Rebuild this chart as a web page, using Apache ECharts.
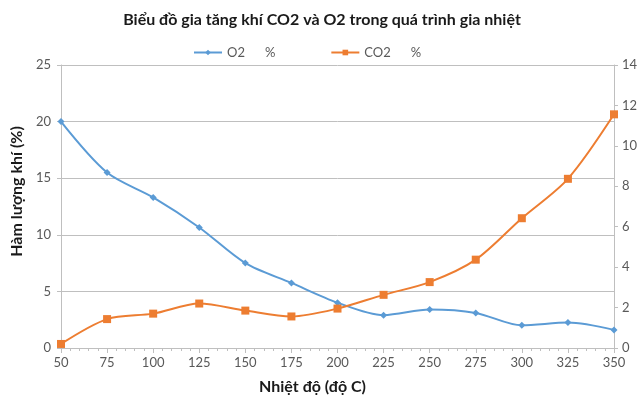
<!DOCTYPE html>
<html>
<head>
<meta charset="utf-8">
<script src="https://cdn.jsdelivr.net/npm/echarts@6/dist/echarts.min.js"></script>
<style>
  html, body {margin: 0; padding: 0; background: #fff;}
  #chart {width: 644px; height: 407px;}
</style>
</head>
<body>
<div id="chart"></div>
<script>
// nhiệt độ (độ C)
var temps = [50, 75, 100, 125, 150, 175, 200, 225, 250, 275, 300, 325, 350];
// O2 % (trục trái)
var o2 = [20, 15.5, 13.3, 10.65, 7.5, 5.75, 4.0, 2.9, 3.4, 3.1, 2.0, 2.25, 1.6];
// CO2 % (trục phải)
var co2 = [0.2, 1.43, 1.7, 2.2, 1.85, 1.56, 1.95, 2.63, 3.26, 4.37, 6.42, 8.37, 11.56];

var blue = '#5b9bd5';
var orange = '#ed7d31';
var font = 'Lato, "Open Sans", sans-serif';

var chart = echarts.init(document.getElementById('chart'));

var option = {
  animation: false,
  textStyle: {fontFamily: font},
  title: {
    text: 'Biểu đồ gia tăng khí CO2 và O2 trong quá trình gia nhiệt',
    left: 'center',
    top: 7,
    textStyle: {fontSize: 16, fontWeight: 'bold', color: '#1a1a1a', fontFamily: font}
  },
  legend: {
    top: 41,
    left: 188,
    itemGap: 55,
    itemWidth: 28,
    itemHeight: 7,
    textStyle: {fontSize: 13, color: '#595959', fontFamily: font},
    data: ['O2      %', 'CO2      %']
  },
  grid: {left: 61, right: 30, top: 65, bottom: 59},
  xAxis: {
    type: 'value',
    min: 50,
    max: 350,
    interval: 25,
    name: 'Nhiệt độ (độ C)',
    nameLocation: 'middle',
    nameGap: 31,
    nameTextStyle: {fontSize: 16, fontWeight: 'bold', color: '#1a1a1a', padding: [0, 50, 0, 0]},
    axisLine: {show: true, lineStyle: {color: '#bfbfbf'}},
    axisTick: {show: true, length: 5, lineStyle: {color: '#bfbfbf'}},
    minorTick: {show: true, splitNumber: 5, length: 3, lineStyle: {color: '#bfbfbf'}},
    axisLabel: {fontSize: 13, color: '#595959', margin: 8},
    splitLine: {show: false}
  },
  yAxis: [
    {
      type: 'value',
      min: 0,
      max: 25,
      interval: 5,
      name: 'Hàm lượng khí (%)',
      nameLocation: 'middle',
      nameGap: 36,
      nameTextStyle: {fontSize: 16, fontWeight: 'bold', color: '#1a1a1a', padding: [0, 0, 0, 30]},
      axisLine: {show: true, lineStyle: {color: '#bfbfbf'}},
      axisTick: {show: true, length: 4, lineStyle: {color: '#bfbfbf'}},
      axisLabel: {fontSize: 13, color: '#595959', margin: 10},
      splitLine: {show: true, lineStyle: {color: '#bfbfbf'}}
    },
    {
      type: 'value',
      min: 0,
      max: 14,
      interval: 2,
      position: 'right',
      axisLine: {show: true, lineStyle: {color: '#bfbfbf'}},
      axisTick: {show: true, length: 4, lineStyle: {color: '#bfbfbf'}},
      axisLabel: {fontSize: 13, color: '#595959', margin: 8},
      splitLine: {show: false}
    }
  ],
  series: [
    {
      name: 'O2      %',
      type: 'line',
      yAxisIndex: 0,
      data: temps.map(function (t, i) { return [t, o2[i]]; }),
      smooth: 0.3,
      symbol: 'diamond',
      symbolSize: 7,
      itemStyle: {color: blue},
      lineStyle: {color: blue, width: 2}
    },
    {
      name: 'CO2      %',
      type: 'line',
      yAxisIndex: 1,
      data: temps.map(function (t, i) { return [t, co2[i]]; }),
      smooth: 0.3,
      symbol: 'rect',
      symbolSize: 8,
      itemStyle: {color: orange},
      lineStyle: {color: orange, width: 2}
    }
  ]
};

chart.setOption(option);
</script>
</body>
</html>
